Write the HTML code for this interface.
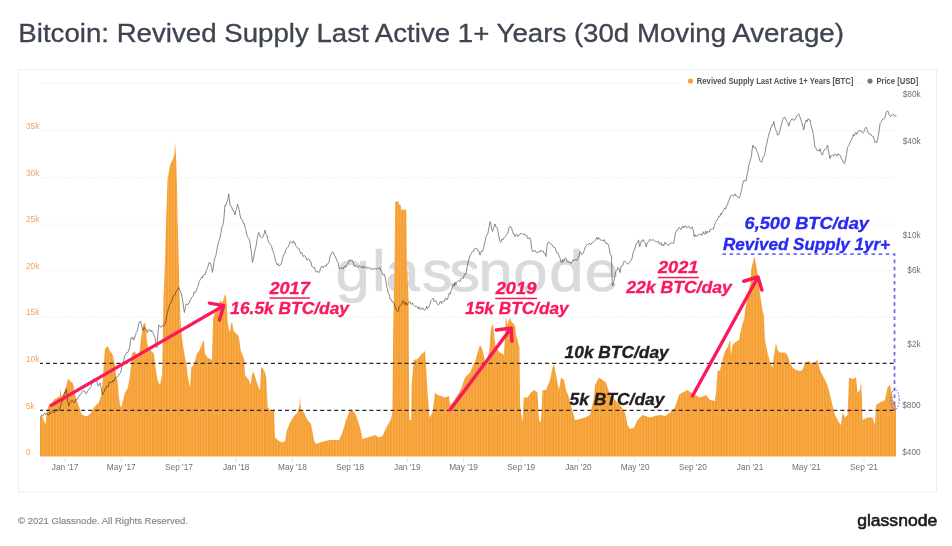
<!DOCTYPE html>
<html><head><meta charset="utf-8"><title>Bitcoin: Revived Supply Last Active 1+ Years (30d Moving Average)</title>
<style>
html,body{margin:0;padding:0;background:#fff;}
body{width:952px;height:546px;overflow:hidden;position:relative;font-family:"Liberation Sans",Arial,sans-serif;}
svg{position:absolute;left:0;top:0;display:block;}
text{font-family:"Liberation Sans",Arial,sans-serif;}
.ax{font-size:8.3px;fill:#707070;}
.al{font-size:8.3px;fill:#f3a457;}
.an{font-weight:bold;font-style:italic;}
</style></head><body>
<svg width="952" height="546" viewBox="0 0 952 546">
<defs>
<pattern id="bars" patternUnits="userSpaceOnUse" x="40" y="0" width="2.8" height="546">
<rect x="0" y="0" width="2.8" height="546" fill="#f59f30"/>
<rect x="2.1" y="0" width="0.7" height="546" fill="#f8b262"/>
</pattern>
</defs>

<text x="18.3" y="42" font-size="24.9" fill="#3e4450" stroke="#3e4450" stroke-width="0.3" textLength="825.6" lengthAdjust="spacingAndGlyphs">Bitcoin: Revived Supply Last Active 1+ Years (30d Moving Average)</text>
<rect x="18.5" y="69.5" width="918" height="422.5" fill="none" stroke="#eeeef1" stroke-width="1"/>
<line x1="40" y1="83.3" x2="896" y2="83.3" stroke="#f1f1f1" stroke-width="1" stroke-dasharray="2 1"/>
<line x1="40" y1="130.6" x2="896" y2="130.6" stroke="#f1f1f1" stroke-width="1" stroke-dasharray="2 1"/>
<line x1="40" y1="177.6" x2="896" y2="177.6" stroke="#f1f1f1" stroke-width="1" stroke-dasharray="2 1"/>
<line x1="40" y1="224.1" x2="896" y2="224.1" stroke="#f1f1f1" stroke-width="1" stroke-dasharray="2 1"/>
<line x1="40" y1="270.6" x2="896" y2="270.6" stroke="#f1f1f1" stroke-width="1" stroke-dasharray="2 1"/>
<line x1="40" y1="317.1" x2="896" y2="317.1" stroke="#f1f1f1" stroke-width="1" stroke-dasharray="2 1"/>
<text transform="scale(1.08,1)" x="310.71 344.51 356.75 390.7 415.89 443.01 475.17 508.67 541.43" y="290.8" font-size="57" fill="#d9d9de" stroke="#d9d9de" stroke-width="0.7">glassnode</text>
<rect x="685" y="75" width="171" height="12" fill="#fff"/>
<rect x="866" y="75" width="56" height="12" fill="#fff"/>
<circle cx="690.5" cy="81" r="2.6" fill="#f6a13c"/>
<text x="696.8" y="83.7" font-size="8.2" font-weight="bold" fill="#505050" textLength="156.5" lengthAdjust="spacingAndGlyphs">Revived Supply Last Active 1+ Years [BTC]</text>
<circle cx="870" cy="81" r="2.6" fill="#777"/>
<text x="876.4" y="83.7" font-size="8.2" font-weight="bold" fill="#505050" textLength="42" lengthAdjust="spacingAndGlyphs">Price [USD]</text>
<text class="al" x="26" y="128.7">35k</text>
<text class="al" x="26" y="175.7">30k</text>
<text class="al" x="26" y="222.2">25k</text>
<text class="al" x="26" y="268.7">20k</text>
<text class="al" x="26" y="315.2">15k</text>
<text class="al" x="26" y="362.1">10k</text>
<text class="al" x="26" y="409">5k</text>
<text class="al" x="26" y="455.2">0</text>
<text class="ax" x="920.7" y="97.2" text-anchor="end">$80k</text>
<text class="ax" x="920.7" y="143.9" text-anchor="end">$40k</text>
<text class="ax" x="920.7" y="238" text-anchor="end">$10k</text>
<text class="ax" x="920.7" y="273" text-anchor="end">$6k</text>
<text class="ax" x="920.7" y="346.7" text-anchor="end">$2k</text>
<text class="ax" x="920.7" y="408" text-anchor="end">$800</text>
<text class="ax" x="920.7" y="455.4" text-anchor="end">$400</text>
<line x1="65" y1="457.5" x2="65" y2="462" stroke="#e4e4e4" stroke-width="1"/>
<text class="ax" x="65" y="469.7" text-anchor="middle">Jan '17</text>
<line x1="121.27" y1="457.5" x2="121.27" y2="462" stroke="#e4e4e4" stroke-width="1"/>
<text class="ax" x="121.27" y="469.7" text-anchor="middle">May '17</text>
<line x1="178.94" y1="457.5" x2="178.94" y2="462" stroke="#e4e4e4" stroke-width="1"/>
<text class="ax" x="178.94" y="469.7" text-anchor="middle">Sep '17</text>
<line x1="236.15" y1="457.5" x2="236.15" y2="462" stroke="#e4e4e4" stroke-width="1"/>
<text class="ax" x="236.15" y="469.7" text-anchor="middle">Jan '18</text>
<line x1="292.42" y1="457.5" x2="292.42" y2="462" stroke="#e4e4e4" stroke-width="1"/>
<text class="ax" x="292.42" y="469.7" text-anchor="middle">May '18</text>
<line x1="350.09" y1="457.5" x2="350.09" y2="462" stroke="#e4e4e4" stroke-width="1"/>
<text class="ax" x="350.09" y="469.7" text-anchor="middle">Sep '18</text>
<line x1="407.3" y1="457.5" x2="407.3" y2="462" stroke="#e4e4e4" stroke-width="1"/>
<text class="ax" x="407.3" y="469.7" text-anchor="middle">Jan '19</text>
<line x1="463.56" y1="457.5" x2="463.56" y2="462" stroke="#e4e4e4" stroke-width="1"/>
<text class="ax" x="463.56" y="469.7" text-anchor="middle">May '19</text>
<line x1="521.24" y1="457.5" x2="521.24" y2="462" stroke="#e4e4e4" stroke-width="1"/>
<text class="ax" x="521.24" y="469.7" text-anchor="middle">Sep '19</text>
<line x1="578.45" y1="457.5" x2="578.45" y2="462" stroke="#e4e4e4" stroke-width="1"/>
<text class="ax" x="578.45" y="469.7" text-anchor="middle">Jan '20</text>
<line x1="635.18" y1="457.5" x2="635.18" y2="462" stroke="#e4e4e4" stroke-width="1"/>
<text class="ax" x="635.18" y="469.7" text-anchor="middle">May '20</text>
<line x1="692.86" y1="457.5" x2="692.86" y2="462" stroke="#e4e4e4" stroke-width="1"/>
<text class="ax" x="692.86" y="469.7" text-anchor="middle">Sep '20</text>
<line x1="750.06" y1="457.5" x2="750.06" y2="462" stroke="#e4e4e4" stroke-width="1"/>
<text class="ax" x="750.06" y="469.7" text-anchor="middle">Jan '21</text>
<line x1="806.33" y1="457.5" x2="806.33" y2="462" stroke="#e4e4e4" stroke-width="1"/>
<text class="ax" x="806.33" y="469.7" text-anchor="middle">May '21</text>
<line x1="864.01" y1="457.5" x2="864.01" y2="462" stroke="#e4e4e4" stroke-width="1"/>
<text class="ax" x="864.01" y="469.7" text-anchor="middle">Sep '21</text>
<path d="M40 456.5 L40 417.5 L42.5 416 L44.4 422.5 L45.6 423.75 L46.9 411 L48.75 405 L51.9 402.5 L55 398.75 L58.75 396.9 L60 396 L60.6 387.5 L61.3 396 L63.75 393.75 L66.25 386.25 L67.5 380 L68.75 378.75 L70 381.25 L72.5 382.5 L73.75 386.25 L75 395 L77.5 402.5 L79.4 407.5 L81.25 413.75 L83.75 415.6 L86.25 416.25 L88.75 415 L91.25 412.5 L93.75 407.5 L96.25 405 L98.75 402.5 L101.25 395 L102.5 382.5 L103.75 365 L105 349 L107.5 346 L110 351 L112.5 354 L115 365 L116.25 377.5 L117.5 380 L118.75 395 L120 405 L121.25 407.5 L122.5 402.5 L125 392.5 L127.5 388.75 L128.75 382.5 L130 376.25 L131.25 362 L131.9 353.75 L134.4 351.25 L136.25 353.75 L138.75 357.5 L141.25 337.5 L143.1 325 L145 322.5 L146.25 328.75 L146.9 341.25 L148.1 347.5 L150 350 L151.9 351.25 L153.75 353.75 L155 362.5 L155.6 367.5 L157.5 380 L160 385 L162 375 L162.8 340 L163.5 300 L165 260 L166.25 216 L167.5 180 L170 165 L172.5 160 L174.25 155 L175 142.5 L176.25 160 L177 185 L177.5 216 L178.5 250 L179.4 290 L180.6 322.5 L181.9 337.5 L183.75 350 L185 357.5 L186.25 362.5 L187.5 375 L190 387.5 L191.25 367.5 L193.75 365 L196.9 353.75 L198.75 351.25 L200.6 347.5 L202.5 342.5 L203.75 340 L205 353.75 L207.5 357.5 L210 358.75 L211.9 360 L213.1 318.75 L215 312.5 L217.5 310 L219.4 302.5 L220.6 300.6 L222.5 302.5 L224.4 296.25 L225.4 293.75 L226.25 298.75 L226.9 307.5 L227.5 320 L228.75 328.75 L230 332.5 L231.25 322.5 L232.5 323.75 L233.75 331.25 L236.25 333.75 L238.75 336 L240.6 350 L242.5 355 L244.4 360 L245 375 L246.9 377.5 L248.75 380 L250.6 385 L251.9 375 L253.1 371.25 L255 376.25 L256.9 382.5 L258.75 387.5 L260 390 L261.25 366.9 L263.1 368.75 L265 372.5 L266.25 377.5 L266.9 392.5 L267.75 408 L271 410 L274 410 L275 437.5 L279 441 L282.5 442.5 L285 441 L287 430 L290 422.5 L294 416 L297.5 412.5 L299.5 405 L300 396 L300.6 405 L301 410 L304 412.5 L307.5 420 L311 424 L314 440 L316 444 L320 442.5 L325 441 L330 440 L335 440 L339 440 L342.5 432.5 L346 420 L350 410 L352.5 410 L356 415 L360 427.5 L362.5 439 L367.5 437.5 L372.5 436 L375 435 L379 437.5 L382.5 436 L385 430 L389 422.5 L390.7 420 L392.4 412.5 L393.2 330 L394.6 260 L395.2 201.5 L398.5 201.5 L399.2 204.8 L400.8 204.8 L401.3 209.8 L406.3 209.8 L406.8 260 L408.6 300 L409 384 L409.4 420 L411.2 420 L411.6 386 L413.8 360 L417.5 359 L421 355 L425 351 L426 365 L427.5 392.5 L429.5 417.5 L432.5 412.5 L435 392.5 L437.5 395 L441 396 L445 397.5 L449 396 L450 405 L452.5 402.5 L457.5 395 L461 389 L465 377.5 L470 372.5 L473.75 363.75 L475 362 L479.4 346.25 L480.6 345.6 L482.5 350 L483.75 355 L485 362.5 L487 360 L489.4 350 L490.6 331.25 L491.9 325 L493.1 324.4 L494.4 337.5 L495.6 346.25 L497.5 350 L500 352.5 L502.5 353.75 L503.75 355 L505 337.5 L505.6 318.75 L506.25 318 L507.5 325 L508.75 320 L510 318 L511.9 322.5 L513.75 323.75 L515 326.25 L516.25 335 L518.1 342.5 L519.4 346.25 L519.75 368 L520 405 L522.5 422.5 L523.75 397.5 L527.5 397.5 L531 392.5 L534 390 L537.5 392.5 L539 420 L541 422.5 L542.5 390 L546 390 L550 380 L552.5 367.5 L554 364 L556 375 L559 390 L561 377.5 L564 380 L566 390 L569 397.5 L571 405 L575 420 L580 419 L585 417.5 L590 415 L594 397.5 L595 385 L599 377.5 L602.5 380 L606 382.5 L610 395 L615 400 L620 405 L625 412.5 L627.5 425 L630 429 L634 427.5 L637.5 420 L642.5 415 L650 417.5 L655 416 L660 415 L665 416 L670 412.5 L675 407.5 L679 395 L682.5 392.5 L687.5 390 L691 392.5 L695 395 L700 397.5 L706 395 L710 400 L715 401 L716 392.5 L717.5 371 L720 370 L722.5 360 L725 351 L727.5 347.5 L730 340 L731 355 L732.5 345 L735 342.5 L739 340 L741 330 L742.5 324 L744.4 318 L745 310 L746.9 300 L748.75 291 L750.6 281 L751.25 268.75 L752.5 263.75 L754.4 256.25 L755.6 262.5 L757.5 272.5 L760 293.75 L761.25 302.5 L762.5 310 L763.75 315 L765 340 L767.5 352.5 L770 362.5 L772.5 367.5 L774 355 L776 342.5 L777.5 350 L780 352.5 L785 352.5 L787.5 355 L790 362.5 L792.5 367.5 L796 370 L800 371 L802.5 370 L805 362.5 L809 361 L812.5 364 L817.5 360 L820 370 L822.5 375 L825 380 L827.5 385 L830 395 L832.5 405 L835 415 L839 422.5 L841 425 L842.5 412.5 L845 417.5 L847.5 415 L848.5 390 L849 377.5 L852.5 379 L856 377.5 L857.5 392.5 L860 390 L861 381 L862 400 L862.5 420 L867.5 417.5 L872.5 417.5 L875 425 L876 405 L880 402.5 L885 400 L887.5 387.5 L890 385 L892.5 397.5 L895 405 L896 405 L896 456.5 Z" fill="url(#bars)"/>
<path d="M40 417.5 L40.94 416.06 L41.88 414.62 L42.81 415.75 L43.75 414.4 L44.58 412.88 L45.42 414.74 L46.25 414.19 L47.08 413.12 L47.92 414.93 L48.75 415 L49.64 412.71 L50.54 413.68 L51.43 411.76 L52.32 411.3 L53.21 412.03 L54.11 413.03 L55 411.25 L55.94 409.51 L56.88 409.57 L57.81 410.8 L58.75 410 L59.58 409.62 L60.42 406.13 L61.25 403.75 L62.08 400.86 L62.92 400.56 L63.75 396.25 L64.58 392.03 L65.42 392.61 L66.25 388.75 L67.5 400 L68.75 406.25 L69.58 403.78 L70.42 401.56 L71.25 401.25 L72.08 400.21 L72.92 401.36 L73.75 402.5 L74.58 402.87 L75.42 399.62 L76.25 400 L77.08 399.06 L77.92 398.03 L78.75 396.25 L79.58 394.93 L80.42 394.76 L81.25 393.75 L82.08 391.26 L82.92 390.41 L83.75 391.25 L84.58 390.97 L85.42 393.6 L86.25 393.75 L87.08 392.22 L87.92 390.54 L88.75 390 L89.58 389.08 L90.42 387.32 L91.25 386.25 L92.08 382.99 L92.92 382.37 L93.75 378.75 L94.88 380.13 L96 380 L97.05 382.15 L98.1 386.25 L99.05 384.91 L100 383 L101.25 388.75 L102.5 395 L103.33 393.01 L104.17 392.26 L105 388.75 L105.83 388.79 L106.67 386.28 L107.5 386.25 L108.33 386.82 L109.17 382.3 L110 382.5 L110.94 381.88 L111.88 382.85 L112.81 380.24 L113.75 381.25 L114.58 379.96 L115.42 377 L116.25 377.5 L117.08 377.31 L117.92 376.84 L118.75 375 L119.58 373.61 L120.42 373.09 L121.25 370 L122.19 365.54 L123.12 363.24 L124.06 359.11 L125 355 L125.94 354.05 L126.88 352.33 L127.81 352.54 L128.75 350 L129.58 347.52 L130.42 341.57 L131.25 337.5 L132.08 338.96 L132.92 337.5 L133.75 340 L134.58 338.27 L135.42 335.56 L136.25 332.5 L137.08 331.46 L137.92 327.89 L138.75 323.75 L139.68 321.68 L140.6 321.25 L141.55 325.19 L142.5 330 L143.33 330.22 L144.17 327.35 L145 328.75 L145.83 329.85 L146.67 329.99 L147.5 332.5 L148.33 330.21 L149.17 329.16 L150 330 L150.83 331.85 L151.67 330.26 L152.5 332.5 L153.33 333.21 L154.17 335.42 L155 337.5 L155.95 343.91 L156.9 347.5 L157.82 334.66 L158.75 325 L159.58 325.64 L160.42 326.85 L161.25 327.5 L162.5 325 L163.33 326.04 L164.17 325.38 L165 323.75 L165.83 321.38 L166.67 315.41 L167.5 312.5 L168.33 309.26 L169.17 306.13 L170 303.75 L170.83 303.29 L171.67 301.66 L172.5 298 L173.33 295.67 L174.17 294.77 L175 295 L175.94 292.11 L176.88 290.24 L177.81 289.32 L178.75 287.5 L179.88 290.34 L181 292.5 L181.85 296.6 L182.7 300.62 L183.55 307.19 L184.4 312.5 L185.32 307.63 L186.25 303.75 L187.5 305 L188.33 303.59 L189.17 303.39 L190 300 L190.83 299.47 L191.67 297.56 L192.5 296.7 L193.33 295.67 L194.17 292.06 L195 292.5 L195.83 291.93 L196.67 289.4 L197.5 287.67 L198.33 285.3 L199.17 281.67 L200 280 L200.83 278.78 L201.67 276.83 L202.5 278.01 L203.33 275 L204.17 274.19 L205 275 L205.83 271.81 L206.67 269.55 L207.5 268.14 L208.33 264.97 L209.17 262.68 L210 262.5 L210.83 264.51 L211.67 267.65 L212.5 272.5 L213.33 266.98 L214.17 260.7 L215 257.5 L215.83 255.59 L216.67 251.27 L217.5 246.16 L218.33 243.23 L219.17 240.25 L220 237.5 L220.94 232.61 L221.88 227.32 L222.81 225.7 L223.75 220 L225 205 L225.83 205.54 L226.67 202.2 L227.5 201 L228.75 193.75 L230 205 L230.83 206.61 L231.67 206.76 L232.5 210 L233.33 210.15 L234.17 212.74 L235 215 L235.83 210.44 L236.67 208.92 L237.5 204 L238.33 206.38 L239.17 209.52 L240 215 L240.83 218.8 L241.67 219.27 L242.5 219.91 L243.33 223.5 L244.17 223.62 L245 227.5 L245.83 230.11 L246.67 234.32 L247.5 236.38 L248.33 238.25 L249.17 239.09 L250 242.5 L250.83 248.66 L251.67 254.57 L252.5 262.5 L253.33 259.37 L254.17 254.29 L255 250 L255.94 246.69 L256.88 240.6 L257.81 235.82 L258.75 232.5 L259.69 234.93 L260.62 236.84 L261.56 237.59 L262.5 237.5 L263.33 236.16 L264.17 233.71 L265 230 L265.94 234.04 L266.88 235.21 L267.81 239.44 L268.75 242.5 L269.69 243.83 L270.62 244.46 L271.56 246.33 L272.5 250 L273.44 252.29 L274.38 255.33 L275.31 260.11 L276.25 262.5 L277.19 264.86 L278.12 263.55 L279.06 266.04 L280 265 L280.83 264.85 L281.67 262.73 L282.5 258.49 L283.33 255.94 L284.17 253.96 L285 253 L285.83 249.93 L286.67 248.04 L287.5 247.72 L288.33 246.85 L289.17 244.71 L290 241.5 L290.83 241.63 L291.67 242.5 L292.5 243.26 L293.33 240.76 L294.17 243.15 L295 242.75 L295.83 245.77 L296.67 246.74 L297.5 248.08 L298.33 248.5 L299.17 248.82 L300 251.5 L300.83 253.43 L301.67 252.53 L302.5 255.14 L303.33 256.63 L304.17 255.27 L305 256.5 L305.83 256.96 L306.67 259.86 L307.5 259.85 L308.33 258.58 L309.17 259.25 L310 261.5 L310.94 261.74 L311.88 266.16 L312.81 267.35 L313.75 267.75 L314.58 267.24 L315.42 270.66 L316.25 272.08 L317.08 271.68 L317.92 271.35 L318.75 272.75 L319.69 271.37 L320.62 268.22 L321.56 266.22 L322.5 266.5 L323.33 267.87 L324.17 266.24 L325 265.35 L325.83 266.48 L326.67 264.17 L327.5 264 L328.33 263.33 L329.17 261.07 L330 256.65 L330.83 254.72 L331.67 252.8 L332.5 251.5 L333.44 252.39 L334.38 255.58 L335.31 256.21 L336.25 259 L337.19 261.19 L338.12 262.6 L339.06 268.06 L340 269 L340.83 268.03 L341.67 268.01 L342.5 268.07 L343.33 268.87 L344.17 266.62 L345 266.5 L345.86 267.16 L346.71 264.65 L347.57 263.84 L348.43 262.88 L349.29 260.03 L350.14 260.7 L351 260 L352 260.42 L353 261.36 L354 266.01 L355 266.5 L355.83 265.25 L356.67 266.4 L357.5 267.36 L358.33 266.71 L359.17 265.84 L360 266.5 L360.83 266.78 L361.67 267.13 L362.5 268.21 L363.33 265.84 L364.17 267.77 L365 267.75 L365.83 266.79 L366.67 266.9 L367.5 268.78 L368.33 267.78 L369.17 267.98 L370 267.75 L370.83 268.95 L371.67 269.73 L372.5 268.16 L373.33 269.01 L374.17 268.81 L375 269 L375.83 268.84 L376.67 269.32 L377.5 268.19 L378.33 268.29 L379.17 267.87 L380 267.75 L380.83 270.89 L381.67 271.42 L382.5 273.56 L383.33 275.26 L384.17 274.13 L385 276.5 L385.83 280.89 L386.67 286.52 L387.5 289 L388.33 293.63 L389.17 294.29 L390 299 L390.83 298.81 L391.67 301.28 L392.5 301.13 L393.33 303.01 L394.17 303.63 L395 306.5 L395.83 308.81 L396.67 310.91 L397.5 311.5 L398.33 311.18 L399.17 306.52 L400 306 L400.83 305.32 L401.67 303.61 L402.5 301.5 L403.33 300.56 L404.17 303.79 L405 304.53 L405.83 302.1 L406.67 305.3 L407.5 304 L408.33 302.78 L409.17 302.28 L410 301.5 L410.83 304.19 L411.67 304.43 L412.5 302.71 L413.33 304.57 L414.17 305.73 L415 306.5 L415.83 306.31 L416.67 306.18 L417.5 307.06 L418.33 309.01 L419.17 306.76 L420 309 L420.83 309.37 L421.67 309.11 L422.5 307.67 L423.33 309.03 L424.17 310.3 L425 310 L425.83 309.05 L426.67 306.34 L427.5 308.84 L428.33 307.1 L429.17 306.79 L430 304 L430.83 300.83 L431.67 299.78 L432.5 299 L433.33 298.08 L434.17 301.73 L435 300.63 L435.83 300.93 L436.67 302.87 L437.5 304 L438.33 305.15 L439.17 304.38 L440 301.83 L440.83 301 L441.67 303.51 L442.5 301.5 L443.33 301.35 L444.17 301.43 L445 298.69 L445.83 298.15 L446.67 300.13 L447.5 299 L448.33 296.63 L449.17 293.21 L450 294.42 L450.83 291.18 L451.67 289.73 L452.5 286.5 L453.33 284.08 L454.17 286.19 L455 282.35 L455.83 284.55 L456.67 282.16 L457.5 281.5 L458.33 280.47 L459.17 280.87 L460 281.87 L460.83 278.95 L461.67 278.01 L462.5 279 L463.38 277.85 L464.25 275.51 L465.12 273.77 L466 274 L467 267.71 L468 262.29 L469 259 L469.88 255.99 L470.75 254.54 L471.62 252.63 L472.5 251.5 L473.38 251.61 L474.25 248.95 L475.12 248.88 L476 248 L477 248.53 L478 250.92 L479 251.42 L480 255 L480.83 252.89 L481.67 250.82 L482.5 251.5 L483.33 249.05 L484.17 245.03 L485 241.5 L485.94 237.19 L486.88 235.15 L487.81 233.78 L488.75 229 L490 221.5 L490.83 223.34 L491.67 229.38 L492.5 231.5 L493.33 228.74 L494.17 226.48 L495 224 L495.83 226.94 L496.67 226.93 L497.5 229 L498.33 233.19 L499.17 238.05 L500 241.5 L500.94 242.4 L501.88 239.03 L502.81 239.95 L503.75 237.75 L504.69 237.6 L505.62 236.39 L506.56 234.58 L507.5 234 L508.33 230.92 L509.17 227.31 L510 226.5 L510.83 226.76 L511.67 228.2 L512.5 231.5 L513.33 234.08 L514.17 233.9 L515 236.5 L515.83 234.8 L516.67 234.09 L517.5 236.55 L518.33 236.24 L519.17 235.06 L520 234 L520.83 233.38 L521.67 233.44 L522.5 233.84 L523.33 234.68 L524.17 233.74 L525 235.25 L525.83 235.46 L526.67 235.18 L527.5 238.25 L528.33 238.71 L529.17 237.51 L530 237.75 L530.83 241.36 L531.67 248.69 L532.5 251.5 L533.33 250.98 L534.17 251.37 L535 250.23 L535.83 251.88 L536.67 252.45 L537.5 252.75 L538.33 252.55 L539.17 251.2 L540 252.14 L540.83 250.04 L541.67 250.81 L542.5 251.5 L543.38 251.19 L544.25 253.62 L545.12 253.51 L546 256.5 L546.75 247.81 L547.5 242.75 L548.44 242.32 L549.38 242.36 L550.31 244.01 L551.25 244 L552.19 245.05 L553.12 246.83 L554.06 247.41 L555 247.75 L555.94 250.45 L556.88 252.94 L557.81 252.96 L558.75 255.25 L559.88 257.71 L561 261.5 L561.88 262.93 L562.75 259.33 L563.62 261.1 L564.5 260.38 L565.38 257.68 L566.25 259 L567.2 261.02 L568.15 261.99 L569.1 261.73 L570.05 262.89 L571 262.75 L571.92 263.1 L572.83 259.71 L573.75 260.25 L574.69 260.03 L575.62 259.64 L576.56 260.59 L577.5 259 L578.33 257.66 L579.17 255.24 L580 251.5 L580.83 252.65 L581.67 254.66 L582.5 254 L583.33 252.61 L584.17 250.57 L585 247.75 L585.83 246.1 L586.67 244.72 L587.5 244.48 L588.33 244.72 L589.17 243.12 L590 244 L590.83 244.65 L591.67 242.97 L592.5 242.61 L593.33 241.98 L594.17 241.56 L595 240.25 L595.94 239.58 L596.88 237.11 L597.81 239.51 L598.75 237.75 L600 239.2 L600.83 240.53 L601.67 239.98 L602.5 240.48 L603.33 241.34 L604.17 239.47 L605 241.5 L606 243.77 L607 243.31 L608 244.01 L609 247 L610.3 254.6 L611.5 256 L612.2 284.1 L612.8 286 L614.1 280 L615.05 274.76 L616 271.3 L617 270.22 L618 267.4 L618.95 268.88 L619.9 272.6 L621.2 266.2 L622 265.81 L622.8 265.41 L623.6 262.28 L624.4 261 L625.23 261.42 L626.07 262.65 L626.9 263.6 L627.77 263.86 L628.63 263.75 L629.5 262.3 L630.33 261.48 L631.17 260.31 L632 258.5 L633 253.04 L634 250.8 L635.3 247 L636.1 243.89 L636.9 242.51 L637.7 242.6 L638.5 239.9 L639.7 247 L640.7 243.01 L641.7 240.5 L642.53 241.19 L643.37 239.51 L644.2 241.8 L645.2 242.73 L646.2 247 L647.15 243.52 L648.1 241.8 L649.05 241.15 L650 239.2 L650.95 240.26 L651.9 240.52 L652.85 239.38 L653.8 240.5 L654.67 241 L655.53 241.23 L656.4 241.8 L657.38 242 L658.35 241 L659.32 244.27 L660.3 243.1 L661.13 242.39 L661.97 245.78 L662.8 244.4 L663.77 245.88 L664.75 242.22 L665.73 243.72 L666.7 243.7 L667.65 244.92 L668.6 245.48 L669.55 243.51 L670.5 243.7 L671.33 242.82 L672.17 242.6 L673 243.7 L673.7 243.14 L674.4 239.2 L675.6 232.8 L676.47 230.43 L677.33 230.58 L678.2 229 L679.15 227.31 L680.1 228.44 L681.05 229.75 L682 227.7 L682.98 225.83 L683.95 227.97 L684.92 226.31 L685.9 225.8 L686.85 227.75 L687.8 227.52 L688.75 226.2 L689.7 227.7 L690.57 228.98 L691.43 227.18 L692.3 227 L693.25 230.04 L694.2 236.7 L695 234.64 L695.8 236.32 L696.6 235.99 L697.4 236 L698.25 234.91 L699.1 233.97 L699.95 234.41 L700.8 233.97 L701.65 235.63 L702.5 234 L703.33 231.69 L704.17 234.12 L705 234.04 L705.83 230.89 L706.67 233.54 L707.5 231.5 L708.33 231.89 L709.17 232.19 L710 229.45 L710.83 229.35 L711.67 229.01 L712.5 229 L713.44 229.02 L714.38 225.59 L715.31 222.85 L716.25 221.5 L717.19 219.98 L718.12 218.15 L719.06 216.03 L720 216.5 L720.83 213.32 L721.67 214.44 L722.5 211.5 L723.75 210 L724.69 207.94 L725.62 209.16 L726.56 205.3 L727.5 205 L728.33 201.61 L729.17 200.04 L730 197.5 L730.83 195.49 L731.67 195.35 L732.5 195 L733.33 196.32 L734.17 195.63 L735 193.75 L735.83 195.77 L736.67 195.91 L737.5 196.25 L738.33 197.82 L739.17 197.92 L740 196.25 L740.83 192.69 L741.67 189.58 L742.5 185 L743.5 180.79 L744.5 180 L745.25 181.38 L746 181 L746.92 175.48 L747.83 171.29 L748.75 165 L749.58 163.05 L750.42 159.19 L751.25 157.5 L752.12 149.54 L753 145 L754 147.87 L755 147.5 L755.83 147.75 L756.67 150.73 L757.5 152.5 L758.33 154.82 L759.17 157.56 L760 161.25 L760.83 161.74 L761.67 162.23 L762.5 160 L763.33 156.59 L764.17 155.59 L765 152.5 L765.83 147.58 L766.67 144.38 L767.5 140 L768.33 136.68 L769.17 132.9 L770 131.25 L770.94 127.46 L771.88 125.14 L772.81 125.29 L773.75 121.25 L775 127.5 L775.83 129.99 L776.67 131.44 L777.5 135 L778.33 134.88 L779.17 133.55 L780 130 L780.94 126.68 L781.88 122.38 L782.81 119.46 L783.75 117.5 L784.88 117.19 L786 120 L786.92 121.48 L787.83 122.61 L788.75 126.25 L789.88 122.13 L791 120 L792 118.77 L793 119.64 L794 120.53 L795 118.75 L795.94 118.45 L796.88 115.92 L797.81 114.67 L798.75 113.75 L799.88 116.97 L801 120 L801.92 122.87 L802.83 126.05 L803.75 130 L804.58 125 L805.42 122.49 L806.25 120 L807.19 121.78 L808.12 118.58 L809.06 120.01 L810 120 L810.83 123.83 L811.67 128.05 L812.5 130 L813.33 134.75 L814.17 140.8 L815 147.5 L815.83 147.71 L816.67 149.45 L817.5 151 L818.33 150.04 L819.17 151.22 L820 148.75 L820.83 152.16 L821.67 154.33 L822.5 155 L823.33 151.52 L824.17 149.89 L825 150 L825.83 149.13 L826.67 148.17 L827.5 145 L828.33 149.48 L829.17 154.5 L830 158.75 L830.83 155.6 L831.67 155.84 L832.5 155 L833.33 156.21 L834.17 155.4 L835 153.75 L835.94 155.41 L836.88 156.17 L837.81 153.73 L838.75 155 L839.69 154.76 L840.62 156.19 L841.56 158.83 L842.5 160 L843.5 162.57 L844.5 163.75 L845.5 160.01 L846.5 153.76 L847.5 147.5 L848.33 146.39 L849.17 145.17 L850 142.5 L850.83 140.67 L851.67 139.36 L852.5 137.5 L853.33 134.5 L854.17 136.07 L855 133.75 L855.83 132.32 L856.67 134.51 L857.5 133.05 L858.33 131.34 L859.17 130.25 L860 131.25 L860.94 130.62 L861.88 132.39 L862.81 132.94 L863.75 132.5 L864.58 129.36 L865.42 127.53 L866.25 127.5 L867.08 129.68 L867.92 131.98 L868.75 133.75 L869.69 133.95 L870.62 133.95 L871.56 136.01 L872.5 136.25 L873.33 136.47 L874.17 139.66 L875 142.5 L875.83 141.52 L876.67 142.58 L877.5 140 L878.33 135.13 L879.17 130.63 L880 123.75 L880.94 122.41 L881.88 120.24 L882.81 119.04 L883.75 118.75 L884.56 118.63 L885.38 115.78 L886.19 112.39 L887 111.25 L888 111.1 L889 114.58 L890 116.25 L890.83 116.5 L891.67 115.11 L892.5 115 L893.44 114.08 L894.38 115.64 L895.31 116.62 L896.25 115" fill="none" stroke="#7c7c7c" stroke-width="0.9" stroke-linejoin="round" style="mix-blend-mode:multiply"/>
<line x1="40" y1="363.4" x2="896" y2="363.4" stroke="#2b2b2b" stroke-width="1.25" stroke-dasharray="4 3.03" stroke-dashoffset="1.03"/>
<line x1="40" y1="410.3" x2="896" y2="410.3" stroke="#2b2b2b" stroke-width="1.25" stroke-dasharray="4 3.03" stroke-dashoffset="1.03"/>
<path d="M51.25 405.4 L223.75 305.6 M209.4 303.1 L223.75 305.6 L219.4 320" fill="none" stroke="#fa1a5c" stroke-width="3.4" stroke-linecap="round" stroke-linejoin="round"/>
<path d="M450 410 L511.25 328.1 M496.25 330 L511.25 328.1 L511.9 341.25" fill="none" stroke="#fa1a5c" stroke-width="3.4" stroke-linecap="round" stroke-linejoin="round"/>
<path d="M692.5 396 L758 277 M743.75 281.25 L758 277 L761.9 290" fill="none" stroke="#fa1a5c" stroke-width="3.4" stroke-linecap="round" stroke-linejoin="round"/>
<text class="an" x="269.5" y="293.6" font-size="17.3" fill="#fa1a5c" stroke="#fa1a5c" stroke-width="0.35" textLength="40.25" lengthAdjust="spacingAndGlyphs">2017</text>
<rect x="269.5" y="297.3" width="40.3" height="1.5" fill="#fa1a5c"/>
<text class="an" x="230.3" y="313.9" font-size="17.3" fill="#fa1a5c" stroke="#fa1a5c" stroke-width="0.35" textLength="118.7" lengthAdjust="spacingAndGlyphs">16.5k BTC/day</text>
<text class="an" x="495.7" y="293.6" font-size="17.3" fill="#fa1a5c" stroke="#fa1a5c" stroke-width="0.35" textLength="40.6" lengthAdjust="spacingAndGlyphs">2019</text>
<rect x="495.2" y="297.7" width="41.7" height="1.5" fill="#fa1a5c"/>
<text class="an" x="465.2" y="314" font-size="17.3" fill="#fa1a5c" stroke="#fa1a5c" stroke-width="0.35" textLength="103.4" lengthAdjust="spacingAndGlyphs">15k BTC/day</text>
<text class="an" x="658" y="272.7" font-size="17.3" fill="#fa1a5c" stroke="#fa1a5c" stroke-width="0.35" textLength="40.5" lengthAdjust="spacingAndGlyphs">2021</text>
<rect x="658" y="276.8" width="41" height="1.5" fill="#fa1a5c"/>
<text class="an" x="626.2" y="292.9" font-size="17.3" fill="#fa1a5c" stroke="#fa1a5c" stroke-width="0.35" textLength="105.6" lengthAdjust="spacingAndGlyphs">22k BTC/day</text>
<text class="an" x="564.6" y="358.2" font-size="17.3" fill="#231f20" stroke="#231f20" stroke-width="0.35" textLength="104.1" lengthAdjust="spacingAndGlyphs">10k BTC/day</text>
<text class="an" x="569.5" y="405" font-size="17.3" fill="#231f20" stroke="#231f20" stroke-width="0.35" textLength="95" lengthAdjust="spacingAndGlyphs">5k BTC/day</text>
<text class="an" x="744.5" y="229.3" font-size="17.3" fill="#2a2af5" stroke="#2a2af5" stroke-width="0.35" textLength="124.5" lengthAdjust="spacingAndGlyphs">6,500 BTC/day</text>
<text class="an" x="723" y="249.7" font-size="17.3" fill="#2a2af5" stroke="#2a2af5" stroke-width="0.35" textLength="167" lengthAdjust="spacingAndGlyphs">Revived Supply 1yr+</text>
<path d="M722 254.2 L894.5 254.2 L894.5 410" fill="none" stroke="#6d6df6" stroke-width="1.8" stroke-dasharray="3.6 3.5" stroke-dashoffset="6.7"/>
<ellipse cx="895" cy="399.5" rx="4.2" ry="10" fill="none" stroke="#5a5af0" stroke-width="1" stroke-dasharray="1.5 1.5"/>
<text x="18" y="524.4" font-size="9.6" fill="#868686" stroke="#868686" stroke-width="0.15" textLength="170" lengthAdjust="spacingAndGlyphs">© 2021 Glassnode. All Rights Reserved.</text>
<text x="857.2" y="525.5" font-size="17" fill="#1a1a1a" stroke="#1a1a1a" stroke-width="0.6" textLength="80" lengthAdjust="spacingAndGlyphs">glassnode</text>
</svg>
</body></html>
